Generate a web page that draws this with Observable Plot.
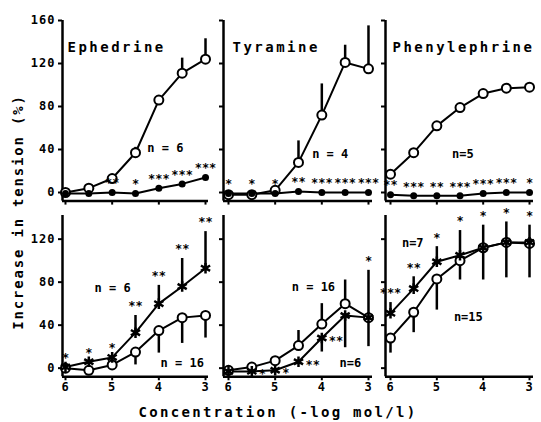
<!DOCTYPE html>
<html>
<head>
<meta charset="utf-8">
<script src="https://cdn.jsdelivr.net/npm/d3@7"></script>
<script src="https://cdn.jsdelivr.net/npm/@observablehq/plot@0.6"></script>
<style>
  html, body { margin: 0; padding: 0; background: #fff; }
  #fig { position: relative; width: 541px; height: 422px; overflow: hidden; background: #fff;
         font-family: "DejaVu Sans Mono", monospace; font-weight: bold; color: #000; }
  .panel { position: absolute; }
  .panel svg { background: transparent !important; overflow: visible; }
  .ylab { position: absolute; left: 18px; top: 212px; transform: translate(-50%, -50%) rotate(-90deg);
          white-space: nowrap; font-size: 14px; letter-spacing: 1.8px; }
  .xlab { position: absolute; left: 278px; top: 412px; transform: translate(-50%, -50%);
          white-space: nowrap; font-size: 14px; letter-spacing: 2.3px; }
</style>
</head>
<body>
<div id="fig">
  <div class="ylab">Increase in tension (%)</div>
  <div class="xlab">Concentration (-log mol/l)</div>
</div>
<script>
// ---------- data ----------
const conc = [6, 5.5, 5, 4.5, 4, 3.5, 3];
const xTicks = [6, 5, 4, 3];
const yTicksTop = [0, 40, 80, 120, 160];
const yTicksBottom = [0, 40, 80, 120];
const drugs = ["Ephedrine", "Tyramine", "Phenylephrine"];

// top row (open = control curve, filled = after treatment)
const ephTopOpen   = [0, 4, 13, 37, 86, 111, 124];
const ephTopOpenHi = [null, null, null, 42, null, 125, 143];
const ephTopFilled = [-1, -1, 0, -1, 4, 8, 14];
const ephTopStars  = ["", "", "**", "*", "***", "***", "***"];

const tyrTopOpen   = [-2, -2, 2, 28, 72, 121, 115];
const tyrTopOpenHi = [null, null, null, 48, 101, 137, 155];
const tyrTopFilled = [-1, -1, -1, 1, 0, 0, 0];
const tyrTopStars  = ["*", "*", "*", "**", "***", "***", "***"];

const pheTopOpen   = [17, 37, 62, 79, 92, 97, 98];
const pheTopFilled = [-2, -3, -3, -3, -1, 0, 0];
const pheTopStars  = ["**", "***", "**", "***", "***", "***", "*"];

// bottom row (open circles and crosses)
const ephBotOpen    = [0, -2, 3, 15, 35, 47, 49];
const ephBotOpenLo  = [null, null, null, 3, 14, 23, 28];
const ephBotCross   = [1, 6, 10, 33, 60, 76, 93];
const ephBotCrossHi = [null, null, null, 49, 77, 102, 127];
const ephBotStars   = ["*", "*", "*", "**", "**", "**", "**"];

const tyrBotOpen    = [-2, 1, 7, 21, 41, 60, 47];
const tyrBotOpenHi  = [null, null, null, 35, 60, 82, 91];
const tyrBotOpenStars = ["", "", "", "", "", "", "*"];
const tyrBotCross   = [-3, -3, -2, 6, 28, 49, 47];
const tyrBotCrossLo = [null, null, null, null, 15, 19, 20];
const tyrBotStars   = ["", "*", "*", "**", "**", "", ""];

const pheBotOpen    = [28, 52, 83, 100, 112, 117, 116];
const pheBotOpenLo  = [14, 33, 54, 82, 82, 84, 84];
const pheBotCross   = [51, 74, 99, 105, 112, 117, 117];
const pheBotCrossHi = [61, 85, 113, 128, 133, 136, 133];
const pheBotStars   = ["***", "**", "*", "*", "*", "*", "*"];

// n labels (conc, value, text)
const notesEphTop = [{c: 3.86, v: 41, t: "n = 6"}];
const notesTyrTop = [{c: 3.82, v: 36, t: "n = 4"}];
const notesPheTop = [{c: 4.44, v: 36, t: "n=5"}];
const notesEphBot = [{c: 4.99, v: 74, t: "n = 6"}, {c: 3.5, v: 5, t: "n = 16"}];
const notesTyrBot = [{c: 4.18, v: 75, t: "n = 16"}, {c: 3.39, v: 5, t: "n=6"}];
const notesPheBot = [{c: 5.52, v: 116, t: "n=7"}, {c: 4.32, v: 47, t: "n=15"}];

// ---------- layout ----------
const cols = [
  {left: 62,  width: 146, domain: [6.064, 2.936], titleDx: 5},
  {left: 223, width: 149, domain: [6.107, 2.914], titleDx: 9},
  {left: 385, width: 148, domain: [6.108, 2.914], titleDx: 7}
];
const rows = [
  {top: 20,     height: 180.6,  domain: [-8, 160], ticks: yTicksTop},
  {top: 215.35, height: 161.25, domain: [-8, 142], ticks: yTicksBottom}
];
const M = {left: 40, right: 8, top: 8, bottom: 24};
const FONT = "DejaVu Sans Mono";

const panels = [
  {row: 0, col: 0, title: drugs[0], notes: notesEphTop, series: [
    {type: "open", y: ephTopOpen, hi: ephTopOpenHi},
    {type: "filled", y: ephTopFilled, stars: ephTopStars, starPos: "above"}]},
  {row: 0, col: 1, title: drugs[1], notes: notesTyrTop, series: [
    {type: "open", y: tyrTopOpen, hi: tyrTopOpenHi},
    {type: "filled", y: tyrTopFilled, stars: tyrTopStars, starPos: "above"}]},
  {row: 0, col: 2, title: drugs[2], notes: notesPheTop, series: [
    {type: "open", y: pheTopOpen},
    {type: "filled", y: pheTopFilled, stars: pheTopStars, starPos: "above"}]},
  {row: 1, col: 0, notes: notesEphBot, series: [
    {type: "open", y: ephBotOpen, lo: ephBotOpenLo},
    {type: "cross", y: ephBotCross, hi: ephBotCrossHi, stars: ephBotStars, starPos: "above"}]},
  {row: 1, col: 1, notes: notesTyrBot, series: [
    {type: "open", y: tyrBotOpen, hi: tyrBotOpenHi, stars: tyrBotOpenStars, starPos: "above"},
    {type: "cross", y: tyrBotCross, lo: tyrBotCrossLo, stars: tyrBotStars, starPos: "right"}]},
  {row: 1, col: 2, notes: notesPheBot, series: [
    {type: "open", y: pheBotOpen, lo: pheBotOpenLo},
    {type: "cross", y: pheBotCross, hi: pheBotCrossHi, stars: pheBotStars, starPos: "above"}]}
];

function makePanel(p) {
  const col = cols[p.col], row = rows[p.row];
  const marks = [];
  const lineMarks = [], dotMarks = [], textMarks = [];
  for (const s of p.series) {
    const d = conc.map((c, i) => ({
      c, y: s.y[i],
      hi: s.hi ? s.hi[i] : null,
      lo: s.lo ? s.lo[i] : null,
      star: s.stars ? s.stars[i] : ""
    }));
    lineMarks.push(Plot.ruleX(d.filter(e => e.hi != null), {x: "c", y1: "y", y2: "hi", strokeWidth: 2.5}));
    lineMarks.push(Plot.ruleX(d.filter(e => e.lo != null), {x: "c", y1: "lo", y2: "y", strokeWidth: 2.5}));
    lineMarks.push(Plot.line(d, {x: "c", y: "y", strokeWidth: 2}));
    if (s.type === "open") {
      dotMarks.unshift(Plot.dot(d, {x: "c", y: "y", r: 4.5, fill: "white", stroke: "black", strokeWidth: 2}));
    } else if (s.type === "filled") {
      dotMarks.push(Plot.dot(d, {x: "c", y: "y", r: 3.5, fill: "black"}));
    } else {
      dotMarks.push(Plot.dot(d, {x: "c", y: "y", r: 5, symbol: "asterisk", stroke: "black", strokeWidth: 2.5}));
    }
    const starred = d.filter(e => e.star);
    if (s.starPos === "above") {
      textMarks.push(Plot.text(starred, {x: "c", y: e => e.hi ?? e.y, text: "star", dy: -9,
        fontSize: 12, fontWeight: "bold", fontFamily: FONT}));
    } else if (s.starPos === "right") {
      textMarks.push(Plot.text(starred, {x: "c", y: "y", text: "star", dx: 7, dy: 3, textAnchor: "start",
        fontSize: 12, fontWeight: "bold", fontFamily: FONT}));
    }
  }
  marks.push(
    Plot.axisY({ticks: row.ticks, tickSize: 4, strokeWidth: 2, label: null,
      tickFormat: p.col === 0 ? (v => String(v)) : (() => ""),
      fontSize: 12, fontWeight: "bold", fontFamily: FONT, tickPadding: 3}),
    Plot.axisX({ticks: xTicks, tickSize: 4, strokeWidth: 2, label: null,
      tickFormat: p.row === 1 ? (v => String(v)) : (() => ""),
      fontSize: 12, fontWeight: "bold", fontFamily: FONT, tickPadding: 2}),
    Plot.ruleX([col.domain[0]], {strokeWidth: 2.5}),
    Plot.ruleY([row.domain[0]], {strokeWidth: 2.5}),
    ...lineMarks, ...dotMarks, ...textMarks,
    Plot.text(p.notes, {x: "c", y: "v", text: "t", fontSize: 12, fontWeight: "bold", fontFamily: FONT})
  );
  if (p.title) {
    marks.push(Plot.text([p.title], {frameAnchor: "top-left", dx: col.titleDx, dy: 27, lineAnchor: "middle",
      textAnchor: "start", fontSize: 14, fontWeight: "bold", fontFamily: FONT}));
  }
  const svg = Plot.plot({
    width: col.width + M.left + M.right,
    height: row.height + M.top + M.bottom,
    marginLeft: M.left, marginRight: M.right, marginTop: M.top, marginBottom: M.bottom,
    x: {type: "linear", domain: col.domain, label: null},
    y: {type: "linear", domain: row.domain, label: null},
    style: {background: "transparent", overflow: "visible", fontFamily: FONT},
    marks
  });
  svg.querySelectorAll("text").forEach(t => {
    const al = t.closest("[aria-label]")?.getAttribute("aria-label") || "";
    if (al.includes("tick label")) t.style.letterSpacing = "1px";
  });
  svg.querySelectorAll('[aria-label="text"] text').forEach(t => {
    if (drugs.includes(t.textContent)) t.style.letterSpacing = "2.5px";
  });
  const div = document.createElement("div");
  div.className = "panel";
  div.style.left = (col.left - M.left) + "px";
  div.style.top = (row.top - M.top) + "px";
  div.appendChild(svg);
  return div;
}

const fig = document.getElementById("fig");
for (const p of panels) fig.appendChild(makePanel(p));
</script>
</body>
</html>
